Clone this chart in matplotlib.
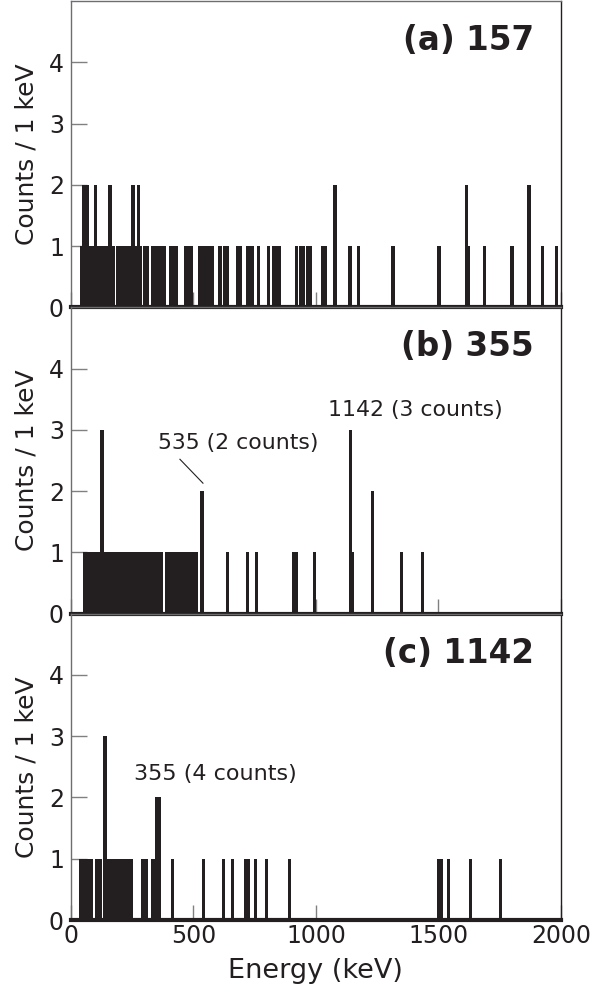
import matplotlib
matplotlib.use("Agg")
import matplotlib.pyplot as plt

# ---------------- data ----------------
energies_a = [52, 60, 68, 100, 159, 253, 275, 1078, 1615, 1870,
              45, 78, 86, 92, 108, 116, 124, 132, 140, 147, 166, 174, 190, 198, 206,
              214, 222, 230, 245, 261, 269, 283, 300, 310, 334, 342, 350, 358, 366,
              374, 380, 406, 414, 422, 432, 468, 476, 484, 490, 525, 533, 543, 554,
              562, 570, 577, 608, 628, 637, 682, 690, 722, 730, 739, 765, 806, 828,
              836, 844, 850, 920, 938, 950, 966, 978, 1026, 1038, 1140, 1173, 1314,
              1503, 1621, 1688, 1800, 1926, 1982]
counts_a = [2, 2, 2, 2, 2, 2, 2, 2, 2, 2] + [1] * 76

energies_b = [126, 535, 1142, 1230,
              56, 64, 72, 80, 88, 96, 104, 110, 118, 134, 142, 150, 158, 166, 174,
              182, 190, 198, 206, 214, 218, 233, 245, 257, 265, 273, 281, 289, 297,
              305, 313, 321, 329, 337, 345, 353, 361, 367, 392, 400, 408, 420, 428,
              436, 444, 449, 461, 469, 477, 485, 493, 501, 510, 639, 720, 757, 910,
              922, 995, 1148, 1349, 1435]
counts_b = [3, 2, 3, 2] + [1] * 62

energies_c = [139, 351, 359,
              41, 49, 57, 62, 77, 83, 106, 114, 119, 147, 155, 163, 168, 184, 192,
              208, 216, 224, 230, 241, 246, 294, 306, 335, 343, 414, 541, 622, 659,
              712, 725, 753, 798, 892, 1502, 1510, 1541, 1630, 1753]
counts_c = [3, 2, 2] + [1] * 39

panel_labels = ["(a) 157", "(b) 355", "(c) 1142"]
x_ticks = [0, 500, 1000, 1500, 2000]
y_ticks = [0, 1, 2, 3, 4]

# ---------------- style ----------------
INK = "#231f20"
GREY = "#808080"
plt.rcParams["font.family"] = ["DejaVu Sans"]

fig = plt.figure(figsize=(5.91, 9.93), dpi=100)
left, width, h, bottom0 = 0.120, 0.829, 0.3085, 0.0735

datasets = [(energies_a, counts_a), (energies_b, counts_b), (energies_c, counts_c)]
axes = []
for i, (en, ct) in enumerate(datasets):
    b = bottom0 + (2 - i) * h
    ax = fig.add_axes([left, b, width, h])
    axes.append(ax)
    ax.bar(en, ct, width=14, color=INK, edgecolor="none", align="center", zorder=2)
    ax.set_xlim(0, 2000)
    ax.set_ylim(0, 5)
    ax.set_yticks(y_ticks)
    ax.set_xticks(x_ticks)
    ax.tick_params(axis="y", direction="in", length=11.5, width=1, color=GREY,
                   labelsize=17, labelcolor=INK, pad=5)
    ax.tick_params(axis="x", direction="in", length=11, width=1, color=GREY,
                   labelsize=17, labelcolor=INK, pad=3)
    if i < 2:
        ax.tick_params(axis="x", labelbottom=False)
    for s in ["left", "top"]:
        ax.spines[s].set_color("#6d6e71")
        ax.spines[s].set_linewidth(1.0)
    ax.spines["right"].set_color(INK)
    ax.spines["right"].set_linewidth(1.0)
    ax.spines["bottom"].set_color(INK)
    ax.spines["bottom"].set_linewidth(3.0)
    ax.spines["bottom"].set_zorder(3)
    ax.set_ylabel("Counts / 1 keV", fontsize=18, color=INK)
    ax.yaxis.set_label_coords(-0.067, 0.5)
    ax.text(0.945, 0.925, panel_labels[i], transform=ax.transAxes, ha="right",
            va="top", fontsize=23.5, fontweight="bold", color=INK)
    ax.patch.set_alpha(0)

# annotations
axes[1].text(682, 2.78, "535 (2 counts)", ha="center", va="center", fontsize=15.8, color=INK)
axes[1].plot([445, 539], [2.52, 2.13], color=INK, lw=0.8)
axes[1].text(1408, 3.32, "1142 (3 counts)", ha="center", va="center", fontsize=15.8, color=INK)
axes[2].text(588, 2.38, "355 (4 counts)", ha="center", va="center", fontsize=16, color=INK)

axes[2].set_xlabel("Energy (keV)", fontsize=19.5, color=INK, labelpad=7)

fig.savefig("out.png", dpi=100)
